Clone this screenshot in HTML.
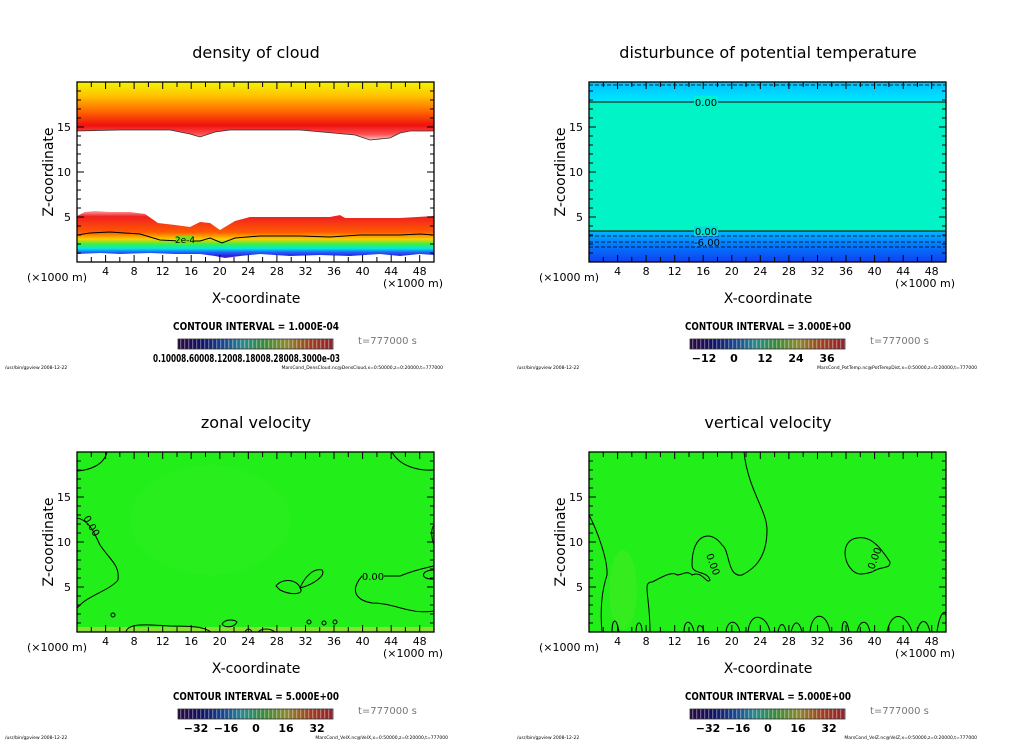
<!DOCTYPE html>
<html><head><meta charset="utf-8"><style>
html,body{margin:0;padding:0;background:#fff;width:1024px;height:740px;overflow:hidden}
svg{display:block;font-family:"DejaVu Sans","Liberation Sans",sans-serif}
</style></head><body>
<svg width="1024" height="740" viewBox="0 0 1024 740" xmlns="http://www.w3.org/2000/svg">
<defs>
<linearGradient id="cb" x1="0" x2="1" y1="0" y2="0">
<stop offset="0" stop-color="#2a0a40"/><stop offset="0.15" stop-color="#101060"/><stop offset="0.3" stop-color="#1a4a90"/>
<stop offset="0.42" stop-color="#2a8a8a"/><stop offset="0.55" stop-color="#3a8a3a"/><stop offset="0.7" stop-color="#8a8a30"/>
<stop offset="0.85" stop-color="#a04020"/><stop offset="1" stop-color="#902030"/></linearGradient>
<pattern id="st" width="4" height="12" patternUnits="userSpaceOnUse"><rect x="0" y="0" width="1.3" height="12" fill="#fff" opacity="0.35"/></pattern>
<linearGradient id="topband" x1="0" x2="0" y1="0" y2="1">
<stop offset="0" stop-color="#f4f400"/><stop offset="0.25" stop-color="#ffc000"/><stop offset="0.5" stop-color="#ff6a00"/>
<stop offset="0.75" stop-color="#f01010"/><stop offset="0.9" stop-color="#ff5050"/><stop offset="1" stop-color="#ffc8c8"/></linearGradient>
<linearGradient id="lowband" x1="0" x2="0" y1="0" y2="1">
<stop offset="0" stop-color="#ffa0a0"/><stop offset="0.12" stop-color="#f02020"/><stop offset="0.45" stop-color="#ff5a00"/>
<stop offset="0.6" stop-color="#f8d000"/><stop offset="0.7" stop-color="#40f040"/><stop offset="0.8" stop-color="#00e8e0"/>
<stop offset="0.88" stop-color="#2060ff"/><stop offset="0.95" stop-color="#3020e0"/><stop offset="1" stop-color="#6010c0"/></linearGradient>
<linearGradient id="ptbot" x1="0" x2="0" y1="0" y2="1">
<stop offset="0" stop-color="#00b8ff"/><stop offset="0.4" stop-color="#0080ff"/><stop offset="1" stop-color="#1040f0"/></linearGradient>
<linearGradient id="pttop" x1="0" x2="0" y1="0" y2="1">
<stop offset="0" stop-color="#00c0ff"/><stop offset="1" stop-color="#00e8ff"/></linearGradient>
<g id="axes">
<rect x="77" y="82" width="357" height="180" fill="none" stroke="#000" stroke-width="1.3"/>
<path stroke="#000" stroke-width="1" d="M91.3 262v-5M105.6 262v-7M119.8 262v-5M134.1 262v-7M148.4 262v-5M162.7 262v-7M177 262v-5M191.2 262v-7M205.5 262v-5M219.8 262v-7M234 262v-5M248.3 262v-7M262.6 262v-5M276.9 262v-7M291.2 262v-5M305.5 262v-7M319.7 262v-5M334 262v-7M348.3 262v-5M362.6 262v-7M376.9 262v-5M391.2 262v-7M405.4 262v-5M419.7 262v-7
M91.3 82v5M105.6 82v7M119.8 82v5M134.1 82v7M148.4 82v5M162.7 82v7M177 82v5M191.2 82v7M205.5 82v5M219.8 82v7M234 82v5M248.3 82v7M262.6 82v5M276.9 82v7M291.2 82v5M305.5 82v7M319.7 82v5M334 82v7M348.3 82v5M362.6 82v7M376.9 82v5M391.2 82v7M405.4 82v5M419.7 82v7
M77 217h7M77 172h7M77 127h7M434 217h-7M434 172h-7M434 127h-7
M77 253h4M77 244h4M77 235h4M77 226h4M77 208h4M77 199h4M77 190h4M77 181h4M77 163h4M77 154h4M77 145h4M77 136h4M77 118h4M77 109h4M77 100h4M77 91h4
M434 253h-4M434 244h-4M434 235h-4M434 226h-4M434 208h-4M434 199h-4M434 190h-4M434 181h-4M434 163h-4M434 154h-4M434 145h-4M434 136h-4M434 118h-4M434 109h-4M434 100h-4M434 91h-4"/>
<g font-size="11" text-anchor="middle" fill="#000">
<text x="105.6" y="275">4</text><text x="134.1" y="275">8</text><text x="162.7" y="275">12</text><text x="191.2" y="275">16</text><text x="219.8" y="275">20</text><text x="248.3" y="275">24</text><text x="276.9" y="275">28</text><text x="305.5" y="275">32</text><text x="334" y="275">36</text><text x="362.6" y="275">40</text><text x="391.2" y="275">44</text><text x="419.7" y="275">48</text>
</g>
<g font-size="11" text-anchor="end"><text x="71" y="221">5</text><text x="71" y="176">10</text><text x="71" y="131">15</text></g>
<text x="27" y="281" font-size="11">(×1000 m)</text>
<text x="443" y="287" font-size="11" text-anchor="end">(×1000 m)</text>
<text x="256" y="303" font-size="14" text-anchor="middle">X-coordinate</text>
<text transform="translate(53,172) rotate(-90)" font-size="14" text-anchor="middle">Z-coordinate</text>
<rect x="178" y="339" width="155" height="10" fill="url(#cb)"/>
<rect x="178" y="339" width="155" height="10" fill="url(#st)"/>
<rect x="178" y="339" width="155" height="10" fill="none" stroke="#333" stroke-width="0.8"/>
<text x="358" y="344" font-size="10" fill="#777">t=777000 s</text>
<text x="5" y="369" font-size="4.5">/usr/bin/gpview   2008-12-22</text>
</g>
</defs>

<!-- Panel 1 -->
<text x="256" y="58" font-size="16" text-anchor="middle">density of cloud</text>
<path d="M77 82H434V131L410 131 L400 133 L390 138 L370 140 L355 135 L300 130 L230 130 L215 132 L200 137 L190 134 L170 130 L120 130 L77 131Z" fill="url(#topband)"/>
<path d="M77 131 L120 130 L170 130 L190 134 L200 137 L215 132 L230 130 L300 130 L355 135 L370 140 L390 138 L400 133 L410 131 L434 131" fill="none" stroke="#333" stroke-width="0.8"/>
<path d="M77 216 L85 212 L95 211 L110 212 L130 212 L145 214 L158 223 L175 225 L190 227 L200 222 L210 223 L220 230 L235 221 L250 217 L280 217 L330 217 L340 215 L345 218 L400 218 L434 216 L434 255 L420 254 L400 256 L380 254 L350 256 L320 255 L290 256 L260 254 L240 256 L225 258 L215 256 L200 254 L175 254 L150 253 L120 254 L100 253 L77 254Z" fill="url(#lowband)"/>
<path d="M77 235 L90 233 L110 232 L140 234 L160 240 L180 241 L200 241 L210 238 L222 243 L235 238 L260 236 L300 236 L330 237 L360 235 L400 235 L420 234 L434 235" fill="none" stroke="#000" stroke-width="1"/>
<rect x="176" y="236" width="18" height="8" fill="#7ae020"/>
<text x="185" y="243" font-size="9" text-anchor="middle">2e-4</text>
<use href="#axes"/>
<text x="256" y="330" font-size="10.5" text-anchor="middle" font-weight="bold" textLength="166" lengthAdjust="spacingAndGlyphs">CONTOUR INTERVAL = 1.000E-04</text>
<text x="153" y="362" font-size="11" font-weight="bold" textLength="187" lengthAdjust="spacingAndGlyphs">0.10008.60008.12008.18008.28008.3000e-03</text>
<text x="443" y="369" font-size="4.5" text-anchor="end">MarsCond_DensCloud.nc@DensCloud,x=0:50000,z=0:20000,t=777000</text>

<!-- Panel 2 -->
<g transform="translate(512,0)">
<text x="256" y="58" font-size="16" text-anchor="middle">disturbunce of potential temperature</text>
<rect x="77" y="82" width="357" height="20" fill="url(#pttop)"/>
<rect x="77" y="102" width="357" height="129" fill="#00f4c6"/>
<rect x="77" y="231" width="357" height="31" fill="url(#ptbot)"/>
<path d="M77 102H434M77 231H434" stroke="#000" stroke-width="1.1"/>
<path d="M77 85H434M77 236H434M77 242H434M77 247H434" stroke="#000" stroke-width="0.8" stroke-dasharray="4,2"/>
<rect x="182" y="96" width="24" height="10" fill="#00f0d0"/><text x="194" y="106" font-size="10" text-anchor="middle">0.00</text>
<rect x="182" y="226" width="24" height="10" fill="#00e0d0"/><text x="194" y="235" font-size="10" text-anchor="middle">0.00</text>
<rect x="182" y="237" width="26" height="9" fill="#1090ff"/><text x="195" y="246" font-size="10" text-anchor="middle">-6.00</text>
<use href="#axes"/>
<text x="256" y="330" font-size="10.5" text-anchor="middle" font-weight="bold" textLength="166" lengthAdjust="spacingAndGlyphs">CONTOUR INTERVAL = 3.000E+00</text>
<g font-size="11" text-anchor="middle" font-weight="bold"><text x="192" y="362">−12</text><text x="222" y="362">0</text><text x="253" y="362">12</text><text x="284" y="362">24</text><text x="315" y="362">36</text></g>
<text x="465" y="369" font-size="4.5" text-anchor="end">MarsCond_PotTemp.nc@PotTempDist,x=0:50000,z=0:20000,t=777000</text>
</g>

<!-- Panel 3 -->
<g transform="translate(0,370)">
<text x="256" y="58" font-size="16" text-anchor="middle">zonal velocity</text>
<rect x="77" y="82" width="357" height="180" fill="#22ee1a"/>
<ellipse cx="210" cy="150" rx="80" ry="55" fill="#40f030" opacity="0.2"/>
<rect x="77" y="257" width="357" height="5" fill="#88e030"/>
<g fill="none" stroke="#000" stroke-width="1">
<path d="M77 101 C90 100 104 95 107 82"/>
<path d="M392 82 C400 97 420 101 434 100"/>
<path d="M77 148 C90 150 95 165 100 175 C110 190 120 195 118 210 C110 220 90 225 80 235 L77 238"/>
<path d="M434 155 C430 160 432 170 434 175"/>
<path d="M434 200 C420 200 420 210 434 209"/>
<path d="M434 241 C410 245 395 233 372 233 C355 230 350 220 362 206 L400 206 C415 200 425 198 434 196"/>
<path d="M276 216 C283 207 298 210 300 218 C305 224 292 226 280 220 Z"/>
<path d="M300 218 C305 206 314 198 322 200 C326 205 315 214 300 218"/>
<path d="M222 254 C226 248 235 250 237 252 C234 258 225 258 222 254Z"/>
<path d="M126 262 C128 252 150 255 170 256 C200 256 205 258 211 262"/>
<path d="M245 262 C247 258 250 258 252 262 M258 262 C262 258 270 258 275 262"/>
<circle cx="309" cy="252" r="2"/><circle cx="324" cy="253" r="2"/><circle cx="335" cy="252" r="2"/><circle cx="113" cy="245" r="2"/>
</g>
<rect x="362" y="201" width="22" height="10" fill="#22ee1a"/><text x="373" y="210" font-size="10" text-anchor="middle">0.00</text>
<text transform="translate(83,148) rotate(60)" font-size="10">0.00</text>
<use href="#axes"/>
<text x="256" y="330" font-size="10.5" text-anchor="middle" font-weight="bold" textLength="166" lengthAdjust="spacingAndGlyphs">CONTOUR INTERVAL = 5.000E+00</text>
<g font-size="11" text-anchor="middle" font-weight="bold"><text x="196" y="362">−32</text><text x="226" y="362">−16</text><text x="256" y="362">0</text><text x="286" y="362">16</text><text x="317" y="362">32</text></g>
<text x="448" y="369" font-size="4.5" text-anchor="end">MarsCond_VelX.nc@VelX,x=0:50000,z=0:20000,t=777000</text>
</g>

<!-- Panel 4 -->
<g transform="translate(512,370)">
<text x="256" y="58" font-size="16" text-anchor="middle">vertical velocity</text>
<rect x="77" y="82" width="357" height="180" fill="#22ee1a"/>
<ellipse cx="111" cy="220" rx="14" ry="40" fill="#60e828" opacity="0.3"/>
<g fill="none" stroke="#000" stroke-width="1">
<path d="M77 145 C85 160 96 190 95 205 C90 220 88 240 90 262"/>
<path d="M232 82 C236 120 255 140 255 160 C255 190 240 200 230 205 C215 208 218 180 210 175 C200 160 180 162 180 195 C180 205 195 200 198 210 C195 215 190 200 180 205 C175 200 170 205 165 205 C160 200 145 210 140 212 C130 212 138 225 138 262"/>
<path d="M340 200 C330 190 330 170 345 168 C360 165 370 180 378 192 C378 200 370 195 360 202 C350 205 345 205 340 200Z"/>
<path d="M434 82 V120"/>
<path d="M100 262 C100 250 104 245 107 262 M124 262 C124 250 130 250 130 262 M172 262 C172 248 180 250 182 262 M186 262 C184 255 190 252 192 262 M214 262 C215 250 225 248 228 262 M236 262 C238 240 255 245 258 262 M266 262 C268 252 272 252 274 262 M279 262 C282 250 287 250 290 262 M298 262 C300 240 315 242 318 262 M330 262 C330 248 335 248 337 262 M345 262 C348 250 355 248 358 262 M375 262 C380 238 395 245 400 262 M405 262 C408 248 415 248 418 262 M425 262 C428 240 434 240 434 245"/>
</g>
<text transform="translate(194,185) rotate(70)" font-size="10">0.00</text>
<text transform="translate(362,200) rotate(-70)" font-size="10">0.00</text>
<use href="#axes"/>
<text x="256" y="330" font-size="10.5" text-anchor="middle" font-weight="bold" textLength="166" lengthAdjust="spacingAndGlyphs">CONTOUR INTERVAL = 5.000E+00</text>
<g font-size="11" text-anchor="middle" font-weight="bold"><text x="196" y="362">−32</text><text x="226" y="362">−16</text><text x="256" y="362">0</text><text x="286" y="362">16</text><text x="317" y="362">32</text></g>
<text x="465" y="369" font-size="4.5" text-anchor="end">MarsCond_VelZ.nc@VelZ,x=0:50000,z=0:20000,t=777000</text>
</g>
</svg>
</body></html>
